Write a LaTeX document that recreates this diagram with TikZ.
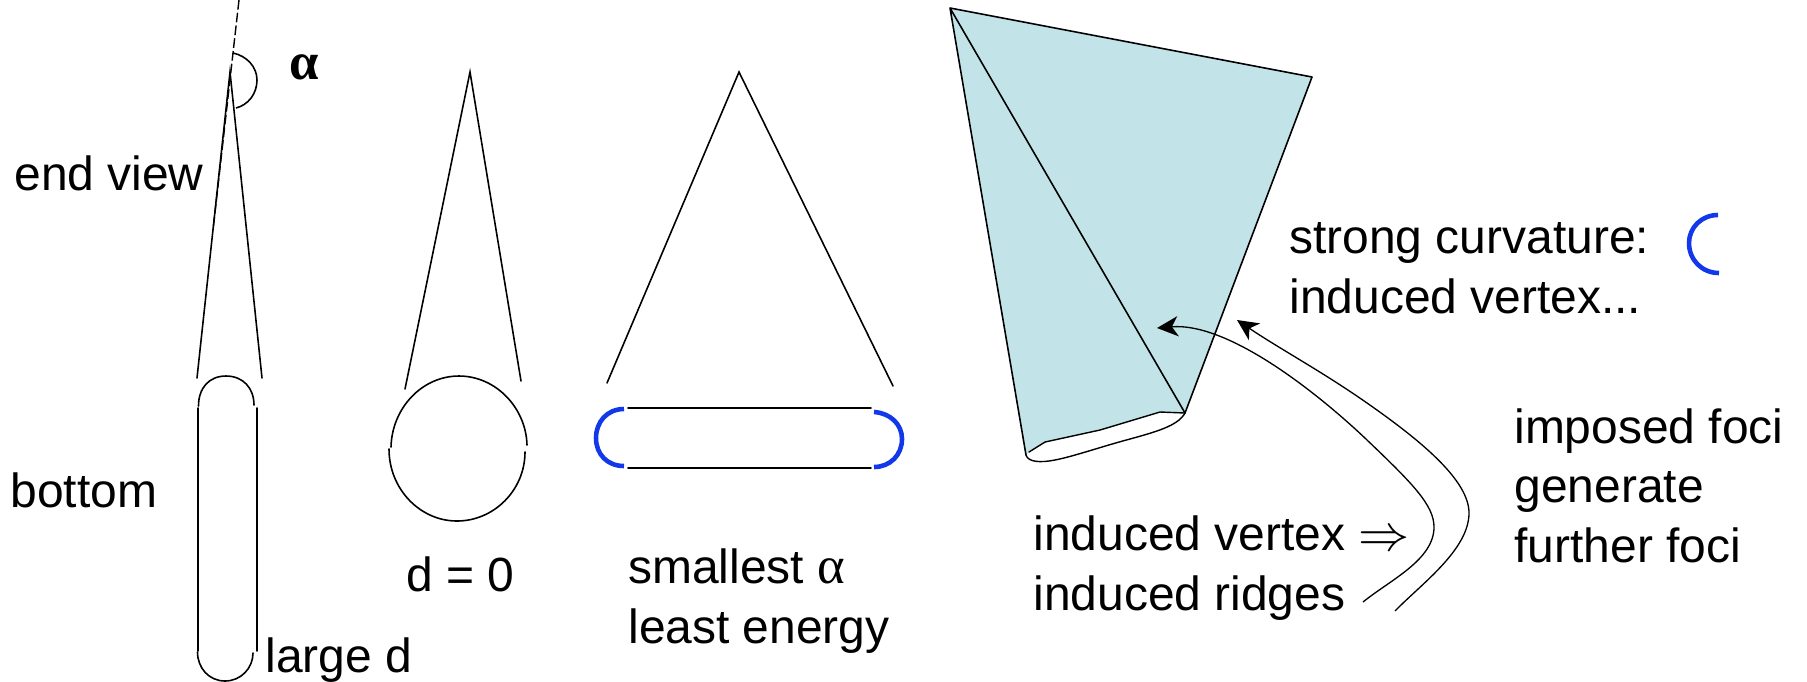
\documentclass[tikz,border=0pt]{standalone}
\usepackage{fontspec}
\setmainfont{Liberation Sans}
\newfontfamily\greekfont{Liberation Serif}
\usepackage{xcolor}
\usepackage{amsmath}
\usetikzlibrary{arrows.meta,positioning}
\definecolor{facecol}{HTML}{C2E4E8}
\definecolor{curvcol}{HTML}{1238EA}

\begin{document}
\begin{tikzpicture}[
  x=0.02cm, y=-0.02cm,
  ridge/.style={draw, line width=0.9pt, line cap=round},
  curv/.style={draw=curvcol, line width=2.6pt},
  edg/.style={-{Stealth[length=12pt, width=11.5pt, inset=3.5pt]}, line width=0.75pt},
  lbl/.style={anchor=base west, inner sep=0pt, align=left, font=\fontsize{27.3}{33.8}\selectfont}
]
\useasboundingbox (0,0) rectangle (1807,681);
% end views
\draw[line width=0.8pt, dash pattern=on 5.5pt off 1.8pt] (239,0) -- (213,230);
\draw[ridge] (197,378) -- (230,72) -- (262,378);
\draw[line width=0.9pt] (233,53) .. controls (247,56) and (257,67) .. (257,80) .. controls (257,94) and (248,105) .. (236,108);
\draw[ridge] (405,389) -- (470,72) -- (521,381);
\draw[ridge] (607,383) -- (739,72) -- (893,386);
% bottoms
\draw[ridge] (198.5,406) .. controls (198.5,388) and (209,376) .. (226,376) .. controls (243,376) and (254,388) .. (254,405);
\draw[ridge] (198,408) -- (198,651);
\draw[ridge] (257,408) -- (257,651);
\draw[ridge] (197.5,652) .. controls (197.5,668) and (209,681) .. (225,681) .. controls (241,681) and (253,668) .. (253,653);
\draw[ridge] (391,447) .. controls (392,408) and (422,376) .. (459,376) .. controls (496,376) and (526,408) .. (527,445);
\draw[ridge] (389,449) .. controls (389,489) and (420,521) .. (457,521) .. controls (494,521) and (525,490) .. (525,452);
\draw[ridge] (628,408) -- (871,408);
\draw[ridge] (628,468) -- (871,468);
\draw[curv] (624,409) .. controls (607,409) and (596,422) .. (596,438) .. controls (596,454) and (607,466) .. (624,466);
\draw[curv] (874,412) .. controls (890,413) and (902,424) .. (902,439) .. controls (902,455) and (890,467) .. (874,467);
\draw[curv] (1718,215) .. controls (1701,215) and (1689,228) .. (1689,243) .. controls (1689,260) and (1702,273) .. (1719,273);
% folded face
\fill[facecol] (950,8) -- (1312,77) -- (1185,413) -- (1160,412) -- (1100,430) -- (1045,442) -- (1029,452) -- (1026,455) -- cycle;
\draw[ridge, line join=round] (1026,455) -- (950,8) -- (1312,77) -- (1185,413) -- (950,8);
\draw[ridge, line width=0.8pt, line join=round] (1185,413) -- (1160,412) -- (1100,430) -- (1045,442) -- (1029,452);
\draw[ridge, line width=0.8pt] (1026,455) .. controls (1028,462) and (1040,463) .. (1055,460) .. controls (1075,456) and (1100,447) .. (1130,439) .. controls (1155,432) and (1178,426) .. (1185,413);
% foci arrows
\coordinate (ridgeA) at (1363,602);
\coordinate (ridgeB) at (1395,611);
\coordinate (vertexA) at (1157,328);
\coordinate (vertexB) at (1237,320);
\draw[edg] (ridgeA) .. controls (1390,580) and (1434,560) .. (1434,527) .. controls (1434,505) and (1412,483) .. (1367,440) .. controls (1322,397) and (1230,322) .. (vertexA);
\draw[edg] (ridgeB) .. controls (1420,585) and (1469,550) .. (1469,513) .. controls (1469,480) and (1420,440) .. (1367,403) .. controls (1322,371.5) and (1280,349) .. (vertexB);
% labels
\node[lbl] (endview) at (14,190) {end view};
\node[lbl, font=\fontsize{30}{33}\selectfont\bfseries\greekfont] (alphamark) at (289,79) {α};
\node[lbl] (bottom) at (10,507) {bottom};
\node[lbl] (larged) at (265,672) {large d};
\node[lbl] (dzero) at (406,591) {d = 0};
\node[lbl] (smallest) at (628,643) {smallest {\greekfont\fontsize{30}{33}\selectfont α}\\least energy};
\node[lbl] (induced) at (1033,610) {induced vertex \scalebox{1.17}{$\Rightarrow$}\\induced ridges};
\node[lbl] (strong) at (1289,313) {strong curvature:\\induced vertex...};
\node[lbl] (imposed) at (1514,562) {imposed foci\\generate\\further foci};
\end{tikzpicture}
\end{document}
